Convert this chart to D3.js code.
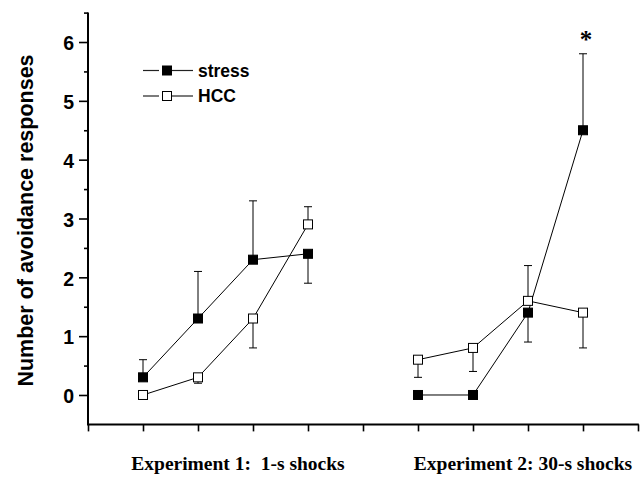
<!DOCTYPE html>
<html>
<head>
<meta charset="utf-8">
<script src="https://cdn.jsdelivr.net/npm/d3@7/dist/d3.min.js"></script>
<style>
  body { margin: 0; background: #fff; }
  svg { display: block; }
</style>
</head>
<body>
<svg id="chart"></svg>
<script>
const W = 643;
const H = 478;

// ── Data ──────────────────────────────────────────────────────────────────────

// x slots: experiment 1 at 1-4, experiment 2 at 6-9
const EXP1_X = [1, 2, 3, 4];
const EXP2_X = [6, 7, 8, 9];

const STRESS_EXP1 = [0.3, 1.3, 2.3, 2.4];
const STRESS_EXP2 = [0.0, 0.0, 1.4, 4.5];
const HCC_EXP1    = [0.0, 0.3, 1.3, 2.9];
const HCC_EXP2    = [0.6, 0.8, 1.6, 1.4];

// end of the one-sided error bar (null = none drawn)
const STRESS_ERR_EXP1 = [0.6, 2.1, 3.3, 1.9];
const STRESS_ERR_EXP2 = [null, null, 0.9, 5.8];
const HCC_ERR_EXP1    = [null, 0.2, 0.8, 3.2];
const HCC_ERR_EXP2    = [0.3, 0.4, 2.2, 0.8];

const X_TICKS       = d3.range(0, 11);
const Y_MAJOR       = [0, 1, 2, 3, 4, 5, 6];
const Y_MINOR       = [0.5, 1.5, 2.5, 3.5, 4.5, 5.5, 6.5];
const GROUP_LABELS  = ['Experiment 1:\u00a0 1-s shocks', 'Experiment 2: 30-s shocks'];
const SERIES_NAMES  = ['stress', 'HCC'];
const SIG_MARK      = { x: 9, text: '*' };

// ── Scales ────────────────────────────────────────────────────────────────────

const x = d3.scaleLinear().domain([0, 10]).range([88, 638]);
const y = d3.scaleLinear().domain([-0.5, 6.5]).range([424.4, 12.6]);

const svg = d3.select('#chart').attr('width', W).attr('height', H);

// ── Axes ──────────────────────────────────────────────────────────────────────

const yMajor = svg.append('g')
  .attr('transform', `translate(${x(0)},0)`)
  .call(d3.axisLeft(y).tickValues(Y_MAJOR).tickSize(9).tickPadding(5).tickFormat(d3.format('d')));
yMajor.select('.domain').remove();
yMajor.selectAll('line').attr('stroke', '#000').attr('stroke-width', 1.6);
yMajor.selectAll('text')
  .attr('dy', '0.4em')
  .attr('font-family', 'Liberation Sans, Arial, sans-serif')
  .attr('font-weight', 'bold')
  .attr('font-size', 19.5)
  .attr('fill', '#000');

const yMinor = svg.append('g')
  .attr('transform', `translate(${x(0)},0)`)
  .call(d3.axisLeft(y).tickValues(Y_MINOR).tickSize(4).tickFormat(''));
yMinor.select('.domain').remove();
yMinor.selectAll('line').attr('stroke', '#000').attr('stroke-width', 1.6);

const xAxis = svg.append('g')
  .attr('transform', `translate(0,${y(-0.5)})`)
  .call(d3.axisBottom(x).tickValues(X_TICKS).tickSize(7).tickFormat(''));
xAxis.select('.domain').remove();
xAxis.selectAll('line').attr('stroke', '#000').attr('stroke-width', 1.6);

svg.append('line')
  .attr('x1', x(0)).attr('x2', x(0))
  .attr('y1', y(6.5)).attr('y2', y(-0.5))
  .attr('stroke', '#000').attr('stroke-width', 2);
svg.append('line')
  .attr('x1', x(0) - 1).attr('x2', x(10) + 0.8)
  .attr('y1', y(-0.5)).attr('y2', y(-0.5))
  .attr('stroke', '#000').attr('stroke-width', 2);

// ── Labels ────────────────────────────────────────────────────────────────────

svg.append('text')
  .attr('transform', `translate(33,${(y(6.5) + y(-0.5)) / 2 + 2}) rotate(-90)`)
  .attr('text-anchor', 'middle')
  .attr('font-family', 'Liberation Sans, Arial, sans-serif')
  .attr('font-weight', 'bold')
  .attr('font-size', 21.5)
  .text('Number of avoidance responses');

svg.selectAll('.group-label')
  .data(GROUP_LABELS)
  .join('text')
  .attr('class', 'group-label')
  .attr('x', (d, i) => i === 0 ? 238 : 523)
  .attr('y', 470)
  .attr('text-anchor', 'middle')
  .attr('font-family', 'Liberation Serif, Times New Roman, serif')
  .attr('font-weight', 'bold')
  .attr('font-size', 19.5)
  .text(d => d);

// ── Series ────────────────────────────────────────────────────────────────────

function segment(xs, vals, errs) {
  return xs.map((d, i) => ({ x: d, v: vals[i], e: errs[i] }));
}

const series = [
  { name: SERIES_NAMES[0], fill: '#000', parts: [segment(EXP1_X, STRESS_EXP1, STRESS_ERR_EXP1), segment(EXP2_X, STRESS_EXP2, STRESS_ERR_EXP2)] },
  { name: SERIES_NAMES[1], fill: '#fff', parts: [segment(EXP1_X, HCC_EXP1, HCC_ERR_EXP1), segment(EXP2_X, HCC_EXP2, HCC_ERR_EXP2)] },
];

const line = d3.line().x(d => x(d.x)).y(d => y(d.v));
const CAP = 4;
const SQ = 9;

const plot = svg.append('g');

// error bars first, then lines, then markers on top
series.forEach(s => {
  s.parts.forEach(part => {
    const eb = plot.append('g')
      .selectAll('g')
      .data(part.filter(d => d.e !== null))
      .join('g');
    eb.append('line')
      .attr('x1', d => x(d.x)).attr('x2', d => x(d.x))
      .attr('y1', d => y(d.v)).attr('y2', d => y(d.e))
      .attr('stroke', '#000').attr('stroke-width', 1);
    eb.append('line')
      .attr('x1', d => x(d.x) - CAP).attr('x2', d => x(d.x) + CAP)
      .attr('y1', d => y(d.e)).attr('y2', d => y(d.e))
      .attr('stroke', '#000').attr('stroke-width', 1);
  });
});

series.forEach(s => {
  s.parts.forEach(part => {
    plot.append('path')
      .datum(part)
      .attr('d', line)
      .attr('fill', 'none')
      .attr('stroke', '#000')
      .attr('stroke-width', 1);
  });
});

series.forEach(s => {
  s.parts.forEach(part => {
    plot.append('g')
      .selectAll('rect')
      .data(part)
      .join('rect')
      .attr('x', d => x(d.x) - SQ / 2)
      .attr('y', d => y(d.v) - SQ / 2)
      .attr('width', SQ).attr('height', SQ)
      .attr('fill', s.fill)
      .attr('stroke', '#000')
      .attr('stroke-width', 1);
  });
});

// significance mark
svg.append('text')
  .attr('x', x(SIG_MARK.x) + 3)
  .attr('y', 48)
  .attr('text-anchor', 'middle')
  .attr('font-family', 'Liberation Serif, Times New Roman, serif')
  .attr('font-weight', 'bold')
  .attr('font-size', 25)
  .text(SIG_MARK.text);

// ── Legend ────────────────────────────────────────────────────────────────────

const legend = svg.append('g')
  .selectAll('g')
  .data(series)
  .join('g')
  .attr('transform', (d, i) => `translate(143,${70.5 + i * 25.5})`);

legend.append('line')
  .attr('x1', 0).attr('x2', 16).attr('y1', 0).attr('y2', 0)
  .attr('stroke', '#222').attr('stroke-width', 1.2);
legend.append('line')
  .attr('x1', 29).attr('x2', 50).attr('y1', 0).attr('y2', 0)
  .attr('stroke', '#222').attr('stroke-width', 1.2);
legend.append('rect')
  .attr('x', 24 - SQ / 2).attr('y', -SQ / 2)
  .attr('width', SQ).attr('height', SQ)
  .attr('fill', d => d.fill)
  .attr('stroke', '#000').attr('stroke-width', 1);
legend.append('text')
  .attr('x', 55).attr('y', 6)
  .attr('font-family', 'Liberation Sans, Arial, sans-serif')
  .attr('font-weight', 'bold')
  .attr('font-size', 17.5)
  .text(d => d.name);
</script>
</body>
</html>
